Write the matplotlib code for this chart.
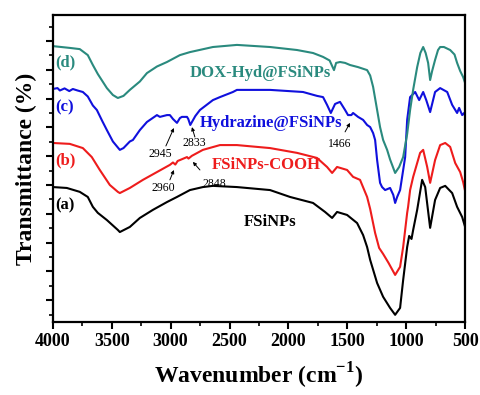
import matplotlib
matplotlib.use("Agg")
import matplotlib.pyplot as plt
from matplotlib.ticker import MultipleLocator

plt.rcParams["mathtext.fontset"] = "custom"
plt.rcParams["mathtext.rm"] = "Liberation Serif"
plt.rcParams["mathtext.bf"] = "Liberation Serif:bold"

# FTIR spectra, wavenumber (cm-1) vs transmittance (arbitrary offset units)
wn_a = [4000, 3881, 3771, 3703, 3660, 3618, 3541, 3448, 3431, 3346, 3261, 3150, 3031, 2946,
        2836, 2726, 2641, 2437, 2156, 1986, 1791, 1689, 1629, 1587, 1502, 1417, 1366, 1332,
        1306, 1247, 1196, 1137, 1094, 1052, 1026, 992, 975, 955, 941, 907, 865, 839, 797,
        755, 712, 669, 610, 568, 525, 500]
t_a = [47.3, 47.0, 45.7, 44.0, 40.7, 38.7, 36.3, 33.0, 32.3, 34.0, 37.0, 39.7, 42.3, 44.0,
       46.3, 47.3, 47.7, 47.3, 46.3, 44.0, 42.0, 39.0, 37.0, 39.0, 38.0, 35.3, 31.3, 27.3,
       23.0, 15.3, 10.7, 7.0, 4.7, 7.0, 16.3, 27.3, 31.0, 30.0, 33.0, 39.7, 49.7, 47.3, 33.7,
       43.0, 47.0, 47.7, 45.3, 40.7, 37.3, 34.0]

wn_b = [4000, 3856, 3745, 3669, 3601, 3516, 3448, 3431, 3346, 3235, 3116, 3006, 2980, 2960,
        2940, 2921, 2861, 2848, 2820, 2726, 2581, 2437, 2156, 1927, 1757, 1672, 1629, 1587,
        1502, 1451, 1392, 1332, 1306, 1264, 1230, 1196, 1150, 1094, 1052, 1026, 992, 984,
        967, 941, 882, 856, 822, 797, 755, 712, 669, 627, 584, 542, 517, 500]
t_b = [62.0, 61.7, 60.3, 57.3, 53.0, 48.0, 45.7, 45.3, 47.0, 49.7, 52.3, 54.7, 55.5, 54.8,
       56.0, 56.3, 57.3, 56.8, 57.7, 59.7, 61.3, 61.3, 60.3, 58.7, 57.0, 54.0, 52.0, 54.0,
       53.0, 50.7, 49.7, 44.0, 40.0, 32.0, 27.0, 25.0, 22.0, 18.0, 20.7, 27.3, 38.7, 40.7,
       46.3, 50.7, 58.7, 59.7, 54.0, 48.7, 56.3, 61.3, 62.0, 60.7, 55.3, 52.3, 49.0, 46.0]

wn_c = [4000, 3960, 3940, 3900, 3860, 3830, 3790, 3745, 3703, 3660, 3626, 3580, 3541, 3490,
        3448, 3431, 3400, 3346, 3320, 3261, 3201, 3116, 3091, 3031, 3006, 2980, 2946, 2921,
        2904, 2861, 2850, 2833, 2790, 2751, 2641, 2581, 2471, 2437, 2156, 1876, 1757, 1706,
        1672, 1640, 1604, 1587, 1562, 1519, 1494, 1466, 1451, 1409, 1366, 1332, 1306, 1281,
        1264, 1247, 1222, 1205, 1179, 1137, 1110, 1094, 1077, 1052, 1009, 992, 967, 924,
        890, 856, 830, 797, 755, 712, 652, 610, 568, 551, 525, 508, 500]
t_c = [80.0, 80.3, 79.5, 80.2, 79.3, 80.0, 79.5, 79.0, 77.5, 74.5, 73.0, 69.3, 66.3, 62.5,
       60.5, 59.7, 60.3, 62.5, 63.0, 66.3, 69.0, 71.3, 70.7, 71.3, 71.3, 70.0, 68.7, 70.3,
       70.7, 70.7, 70.0, 68.0, 71.0, 73.0, 76.3, 77.3, 79.0, 79.7, 79.7, 79.0, 77.7, 77.3,
       74.7, 72.0, 75.0, 75.3, 75.7, 73.0, 71.3, 71.3, 72.0, 70.7, 69.7, 68.0, 67.3, 65.3,
       63.0, 56.3, 48.7, 47.3, 46.3, 47.0, 44.7, 42.0, 44.0, 46.3, 57.3, 69.7, 77.3, 79.0,
       76.3, 79.0, 76.3, 72.3, 79.0, 80.3, 79.0, 74.7, 72.0, 73.7, 71.3, 72.0, 71.0]

wn_d = [4000, 3856, 3771, 3703, 3660, 3618, 3541, 3490, 3448, 3400, 3346, 3261, 3201, 3116,
        3031, 2921, 2836, 2641, 2437, 2156, 1927, 1791, 1706, 1650, 1613, 1595, 1562, 1519,
        1477, 1409, 1332, 1306, 1281, 1247, 1222, 1196, 1162, 1137, 1094, 1060, 1026, 992,
        967, 940, 907, 880, 856, 835, 814, 797, 780, 755, 730, 712, 680, 627, 590, 568,
        542, 517, 500]
t_d = [94.3, 93.7, 93.3, 91.3, 88.0, 85.0, 80.3, 78.0, 77.0, 77.7, 79.7, 82.5, 85.3, 87.5,
       89.0, 91.3, 92.3, 94.0, 94.7, 94.0, 93.0, 92.0, 90.7, 89.5, 86.3, 88.7, 89.0, 88.7,
       88.0, 87.3, 86.3, 84.5, 80.7, 73.0, 67.3, 63.0, 59.7, 56.5, 52.0, 54.0, 57.3, 65.0,
       73.0, 80.0, 87.3, 92.0, 94.0, 92.0, 88.7, 83.0, 86.0, 89.7, 93.0, 94.0, 94.0, 93.0,
       91.5, 88.7, 86.0, 84.0, 82.0]

serif = "Liberation Serif"
c_a, c_b, c_c, c_d = "black", "#ee1c1c", "#1010dd", "#2a8a7e"

fig = plt.figure(figsize=(4.8, 3.95), dpi=100)
ax = fig.add_axes([0.110, 0.185, 0.859, 0.777])

ax.plot(wn_a, t_a, color=c_a, lw=1.5)
ax.plot(wn_b, t_b, color=c_b, lw=1.5)
ax.plot(wn_c, t_c, color=c_c, lw=1.5)
ax.plot(wn_d, t_d, color=c_d, lw=1.5)

ax.set_xlim(4000, 500)
ax.set_ylim(2.33, 104.67)

# curve tags on the left
ax.text(3983, 89.0, "(d)", color=c_d, fontsize=12, fontweight="bold", family=serif, va="center")
ax.text(3983, 73.7, "(c)", color=c_c, fontsize=12, fontweight="bold", family=serif, va="center")
ax.text(3983, 56.3, "(b)", color=c_b, fontsize=12, fontweight="bold", family=serif, va="center")
ax.text(3983, 41.3, "(a)", color=c_a, fontsize=12, fontweight="bold", family=serif, va="center")

# sample names
ax.text(2241, 85.3, "DOX-Hyd@FSiNPs", color=c_d, fontsize=12, fontweight="bold", family=serif, ha="center", va="center")
ax.text(2148, 68.7, "Hydrazine@FSiNPs", color=c_c, fontsize=12, fontweight="bold", family=serif, ha="center", va="center")
ax.text(2190, 54.7, "FSiNPs-COOH", color=c_b, fontsize=12, fontweight="bold", family=serif, ha="center", va="center")
ax.text(2156, 35.7, "FSiNPs", color=c_a, fontsize=12, fontweight="bold", family=serif, ha="center", va="center")

# peak annotations
arrow = dict(arrowstyle="-|>", lw=0.7, color="black", mutation_scale=5, shrinkA=0, shrinkB=0)
ax.text(3091, 58.3, "2945", fontsize=8.5, family=serif, ha="center", va="center")
ax.annotate("", xy=(2972, 67.0), xytext=(3040, 61.0), arrowprops=arrow)
ax.text(2802, 62.0, "2833", fontsize=8.5, family=serif, ha="center", va="center")
ax.annotate("", xy=(2819, 67.3), xytext=(2794, 64.0), arrowprops=arrow)
ax.text(3065, 47.0, "2960", fontsize=8.5, family=serif, ha="center", va="center")
ax.annotate("", xy=(2972, 53.0), xytext=(3006, 49.7), arrowprops=arrow)
ax.text(2632, 48.3, "2848", fontsize=8.5, family=serif, ha="center", va="center")
ax.annotate("", xy=(2811, 55.7), xytext=(2751, 53.0), arrowprops=arrow)
ax.text(1562, 61.7, "1466", fontsize=8.5, family=serif, ha="center", va="center")
ax.annotate("", xy=(1477, 68.7), xytext=(1519, 65.7), arrowprops=arrow)

ax.xaxis.set_major_locator(MultipleLocator(500))
ax.xaxis.set_minor_locator(MultipleLocator(250))
ax.yaxis.set_major_locator(MultipleLocator(9.6))
ax.yaxis.set_minor_locator(MultipleLocator(4.8))
ax.tick_params(axis="both", which="major", direction="out", length=5, width=1.5)
ax.tick_params(axis="both", which="minor", direction="out", length=3, width=1.2)
ax.tick_params(axis="y", which="both", labelleft=False)
ax.tick_params(axis="x", labelsize=13, pad=3)
for lab in ax.get_xticklabels():
    lab.set_fontfamily(serif)
    lab.set_fontweight("bold")
for sp in ax.spines.values():
    sp.set_linewidth(1.6)

ax.set_xlabel("Wavenumber (cm$^{\\mathbf{-1}}$)", fontsize=17, fontweight="bold", family=serif, labelpad=8)
ax.set_ylabel("Transmittance (%)", fontsize=17, fontweight="bold", family=serif, labelpad=6)

fig.savefig("out.png", dpi=100)
